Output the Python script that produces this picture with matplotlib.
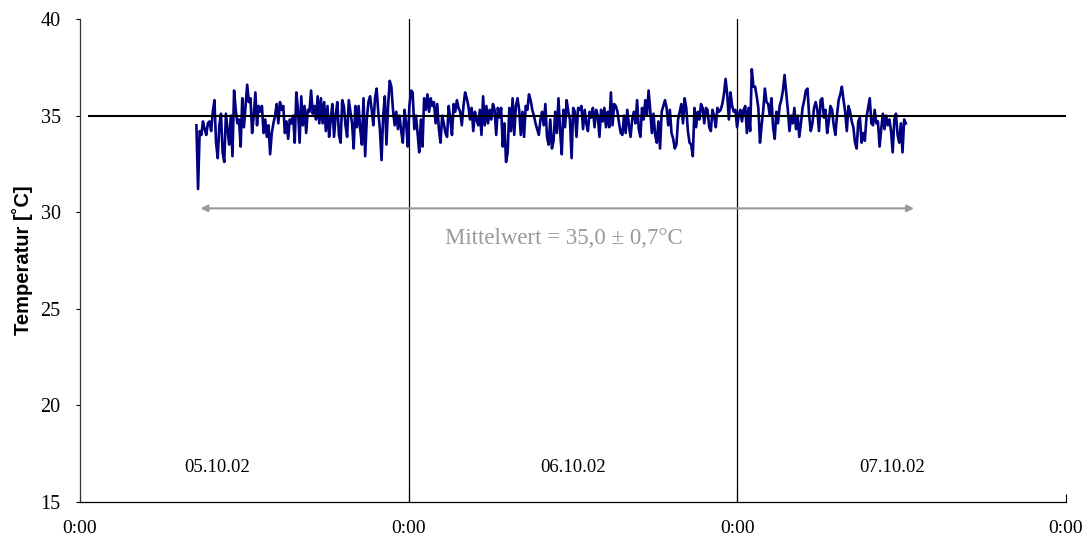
import matplotlib.pyplot as plt
import numpy as np

t_start, t_end = 8.5, 60.3  # hours from 05.10.02 0:00
temps = [
    34.5, 31.2, 34.2, 34.0, 34.7, 34.3, 34.0, 34.6, 34.7, 34.2, 35.2, 35.8, 33.6, 32.8,
    34.5, 35.1, 33.1, 32.6, 35.1, 34.3, 33.5, 35.0, 32.9, 36.3, 35.3, 34.6, 34.8, 33.4,
    35.9, 34.4, 35.5, 36.6, 35.7, 35.9, 34.1, 35.0, 36.2, 34.5, 35.5, 35.2, 35.5, 34.1,
    34.8, 33.9, 34.5, 33.0, 34.1, 34.6, 35.0, 35.6, 34.6, 35.7, 35.3, 35.5, 34.1, 34.7,
    33.8, 34.8, 34.6, 35.0, 33.6, 36.2, 35.3, 33.6, 36.0, 34.5, 35.5, 34.1, 35.3, 35.2,
    36.3, 35.1, 35.5, 34.8, 36.0, 34.6, 35.9, 34.6, 35.7, 34.2, 35.5, 33.9,
    34.8, 35.6, 33.9, 35.0, 35.7, 34.0, 33.6, 35.8, 35.5, 34.5, 33.9, 35.8, 35.2, 34.6,
    33.3, 35.5, 34.4, 35.5, 34.3, 33.5, 35.9, 32.9, 34.8, 35.7, 36.0, 35.3, 34.5, 35.9,
    36.4, 35.2, 34.3, 32.7, 35.0, 36.0, 33.5, 35.5, 36.8, 36.5, 35.3, 34.5, 35.2, 34.3,
    35.0, 34.2, 33.6, 35.3, 34.6, 33.4, 35.5, 36.3, 36.2, 34.3, 35.0, 34.1, 33.1, 34.8,
    33.4, 35.9, 35.3, 36.1, 35.2, 35.9, 35.5, 35.7, 34.6, 35.6, 34.3, 33.6, 35.0, 34.6,
    34.1, 33.9, 35.5, 34.8, 34.0, 35.6, 35.2, 35.8, 35.4, 35.2, 34.5, 35.5, 36.2, 35.9,
    35.5, 34.8, 35.4, 34.2, 35.2, 34.8,
    34.5, 35.3, 34.0, 36.0, 34.5, 35.5, 34.6, 35.3, 34.8, 35.6, 35.3, 34.0, 35.4, 34.9,
    35.4, 33.4, 34.6, 32.6, 33.1, 35.4, 34.2, 35.9, 34.0, 35.5, 35.9, 35.3, 34.0, 35.2,
    33.9, 35.5, 35.3, 36.1, 35.8, 35.3, 35.0, 34.6, 34.3, 34.0, 34.8, 35.2, 34.5, 35.6,
    33.9, 33.5, 34.8, 33.3, 33.7, 35.2, 34.1, 35.9, 34.2, 33.0, 35.3, 34.4, 35.8, 35.2,
    34.8, 32.8, 35.4, 35.2, 33.9, 35.4, 35.3, 35.5, 34.3, 35.3, 34.6, 34.2, 35.2, 34.9,
    35.4, 34.4, 35.3, 35.0, 33.9, 35.3, 34.7, 35.4, 34.4, 35.2, 34.4, 36.2, 34.5, 35.6,
    35.5, 35.2, 34.6, 34.1, 34.0,
    35.0, 34.1, 35.3, 34.5, 33.9, 34.8, 35.2, 34.6, 35.8, 34.3, 33.9, 35.4, 34.8, 35.8,
    35.0, 36.3, 35.3, 34.1, 35.1, 34.0, 33.6, 34.7, 33.3, 35.2, 35.5, 35.8, 35.4, 34.5,
    35.3, 34.1, 33.8, 33.3, 33.5, 34.8, 35.2, 35.6, 34.6, 35.9, 35.4, 34.2, 33.6, 33.5,
    32.9, 35.4, 34.4, 35.2, 34.8, 35.6, 35.4, 34.6, 35.4, 35.3, 34.4, 34.2, 35.3, 35.0,
    34.4, 35.4, 35.2, 35.3, 35.6, 36.1, 36.9, 36.1, 34.8, 36.2, 35.5, 35.2, 35.3, 34.4,
    35.0, 35.3, 34.7, 35.3, 35.5, 34.1, 35.4, 34.2, 37.4, 36.5, 36.5, 36.0, 35.4, 33.6,
    34.5, 35.3, 36.4, 35.7, 35.6,
    35.0, 35.9, 34.4, 33.8, 35.2, 34.6, 35.5, 35.8, 36.3, 37.1, 36.2, 35.3, 34.2, 35.0,
    34.6, 35.4, 34.3, 35.0, 33.9, 34.6, 35.4, 35.8, 36.3, 36.4, 35.0, 34.2, 34.6, 35.4,
    35.7, 35.3, 34.2, 35.8, 35.9, 34.9, 35.3, 34.1, 34.7, 35.5, 35.3, 34.5, 34.0, 35.0,
    35.8, 36.1, 36.5, 35.8, 35.2, 34.2, 35.5, 35.2, 34.7, 34.4, 33.6, 33.3, 34.7, 34.9,
    33.6, 34.1, 33.7, 34.9, 35.4, 35.9, 34.6, 34.5, 35.3, 34.6, 34.7, 33.4, 34.3, 35.1,
    34.3, 35.0, 34.5, 34.8, 34.2, 33.1, 34.8, 35.1, 34.0, 33.6, 34.6, 33.1, 34.8, 34.6,
]
hours = np.linspace(t_start, t_end, len(temps))

mean_temp = 35.0
day_labels = ['05.10.02', '06.10.02', '07.10.02']
day_label_x = [10.0, 36.0, 59.3]
x_ticks = [0, 24, 48, 72]
x_ticklabels = ['0:00', '0:00', '0:00', '0:00']
y_ticks = [15, 20, 25, 30, 35, 40]

serif = 'Liberation Serif'

fig = plt.figure(figsize=(10.9, 5.39), dpi=100)
ax = fig.add_axes([0.0734, 0.0686, 0.9046, 0.8961])

ax.plot(hours, temps, color='#000080', lw=1.9, zorder=3)
ax.hlines(mean_temp, 0.6, 72, color='black', lw=1.5, zorder=4)
for d in [24, 48]:
    ax.axvline(d, color='black', lw=0.9, zorder=2)

# mean annotation
ax.annotate('', xy=(8.8, 30.2), xytext=(60.9, 30.2),
            arrowprops=dict(arrowstyle='<|-|>', color='#999999', lw=1.5,
                            mutation_scale=10, shrinkA=0, shrinkB=0))
ax.text(35.3, 28.65, 'Mittelwert = 35,0 \u00b1 0,7\u00b0C', color='#999999',
        fontsize=16.5, family=serif, ha='center', va='center')

for lab, xx in zip(day_labels, day_label_x):
    ax.text(xx, 16.8, lab, fontsize=13.5, family=serif, ha='center', va='center')

ax.set_xlim(0, 72)
ax.set_ylim(15, 40)
ax.set_xticks(x_ticks)
ax.set_xticklabels(x_ticklabels, family=serif, fontsize=14)
ax.set_yticks(y_ticks)
ax.set_yticklabels([str(v) for v in y_ticks], family=serif, fontsize=14.5)
ax.tick_params(axis='x', direction='in', length=6, pad=13, width=0.8)
ax.tick_params(axis='y', direction='out', length=3, pad=11, width=0.8)

ax.spines['top'].set_visible(False)
ax.spines['right'].set_visible(False)
ax.spines['left'].set_color('#333333')
ax.spines['left'].set_linewidth(0.9)
ax.spines['bottom'].set_linewidth(0.9)

ax.set_ylabel('Temperatur [\u02daC]', family='Liberation Sans', fontweight='bold',
              fontsize=14.5, labelpad=5)

fig.savefig('out.png', dpi=100)
